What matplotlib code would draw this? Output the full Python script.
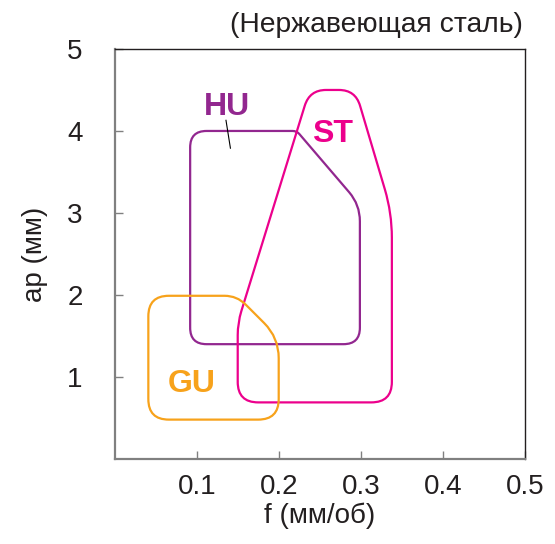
import matplotlib
matplotlib.use("Agg")
import matplotlib.pyplot as plt
from matplotlib.path import Path
from matplotlib.patches import PathPatch

plt.rcParams['font.family'] = ['Liberation Sans', 'DejaVu Sans']

# зоны (вершины многоугольников, f в мм/об, ap в мм) и радиусы скругления углов
hu_f = [0.092, 0.299, 0.299, 0.222, 0.092]
hu_ap = [1.40, 1.40, 3.10, 4.00, 4.00]
hu_r = [0.2, 0.2, 0.2, 0.05, 0.2]

st_f = [0.150, 0.338, 0.338, 0.2935, 0.2377, 0.150]
st_ap = [0.69, 0.69, 3.00, 4.50, 4.50, 1.66]
st_r = [0.25, 0.25, 0.3, 0.2, 0.2, 0.15]

gu_f = [0.041, 0.200, 0.200, 0.149, 0.041]
gu_ap = [0.48, 0.48, 1.48, 1.99, 1.99]
gu_r = [0.25, 0.25, 0.25, 0.15, 0.25]

x_ticks = [0.1, 0.2, 0.3, 0.4, 0.5]
y_ticks = [1, 2, 3, 4, 5]

XS = 10.0  # масштаб по f, чтобы скругление было "круглым"


def rounded_path(xs, ys, rs):
    pts = [(x * XS, y) for x, y in zip(xs, ys)]
    n = len(pts)
    verts, codes = [], []
    for i in range(n):
        p0 = pts[i - 1]
        p1 = pts[i]
        p2 = pts[(i + 1) % n]
        r = rs[i]
        d1 = ((p0[0] - p1[0]) ** 2 + (p0[1] - p1[1]) ** 2) ** 0.5
        d2 = ((p2[0] - p1[0]) ** 2 + (p2[1] - p1[1]) ** 2) ** 0.5
        a = (p1[0] + (p0[0] - p1[0]) * r / d1, p1[1] + (p0[1] - p1[1]) * r / d1)
        b = (p1[0] + (p2[0] - p1[0]) * r / d2, p1[1] + (p2[1] - p1[1]) * r / d2)
        verts += [a, p1, b]
        codes += [Path.MOVETO if i == 0 else Path.LINETO, Path.CURVE3, Path.CURVE3]
    verts.append(verts[0])
    codes.append(Path.LINETO)
    verts = [(x / XS, y) for x, y in verts]
    return Path(verts, codes)


fig = plt.figure(figsize=(5.55, 5.44), dpi=100)
ax = fig.add_axes([0.2067, 0.1563, 0.7387, 0.7537])

zones = [
    (hu_f, hu_ap, hu_r, '#92278f'),
    (st_f, st_ap, st_r, '#ec008c'),
    (gu_f, gu_ap, gu_r, '#f7a21b'),
]
for xs, ys, rs, c in zones:
    ax.add_patch(PathPatch(rounded_path(xs, ys, rs), fill=False, edgecolor=c, lw=1.6))

ax.text(0.137, 4.29, 'HU', color='#92278f', fontsize=23, fontweight='bold', ha='center', va='center')
ax.plot([0.1357, 0.1411], [4.13, 3.79], color='black', lw=0.8)
ax.text(0.266, 3.96, 'ST', color='#ec008c', fontsize=23, fontweight='bold', ha='center', va='center')
ax.text(0.094, 0.91, 'GU', color='#f7a21b', fontsize=23, fontweight='bold', ha='center', va='center')

ax.set_xlim(0, 0.5)
ax.set_ylim(0, 5)
ax.set_xticks(x_ticks)
ax.set_xticklabels([str(v) for v in x_ticks])
ax.set_yticks(y_ticks)
ax.set_yticklabels([str(v) for v in y_ticks])
ax.tick_params(direction='in', length=6, width=1, color='#808080', labelsize=20, labelcolor='#231f20')
ax.tick_params(axis='x', pad=11)
ax.tick_params(axis='y', pad=23)
for s in ['left', 'bottom']:
    ax.spines[s].set_color('#808080')
    ax.spines[s].set_linewidth(1.6)
for s in ['top', 'right']:
    ax.spines[s].set_color('#231f20')
    ax.spines[s].set_linewidth(1.0)

ax.set_xlabel('f (мм/об)', fontsize=20, color='#231f20', labelpad=2)
ax.set_ylabel('ap (мм)', fontsize=20, color='#231f20', labelpad=14)
fig.text(0.9423, 1 - 32 / 544, '(Нержавеющая сталь)', fontsize=20.3, color='#231f20', ha='right', va='baseline')

fig.savefig('out.png', dpi=100)
